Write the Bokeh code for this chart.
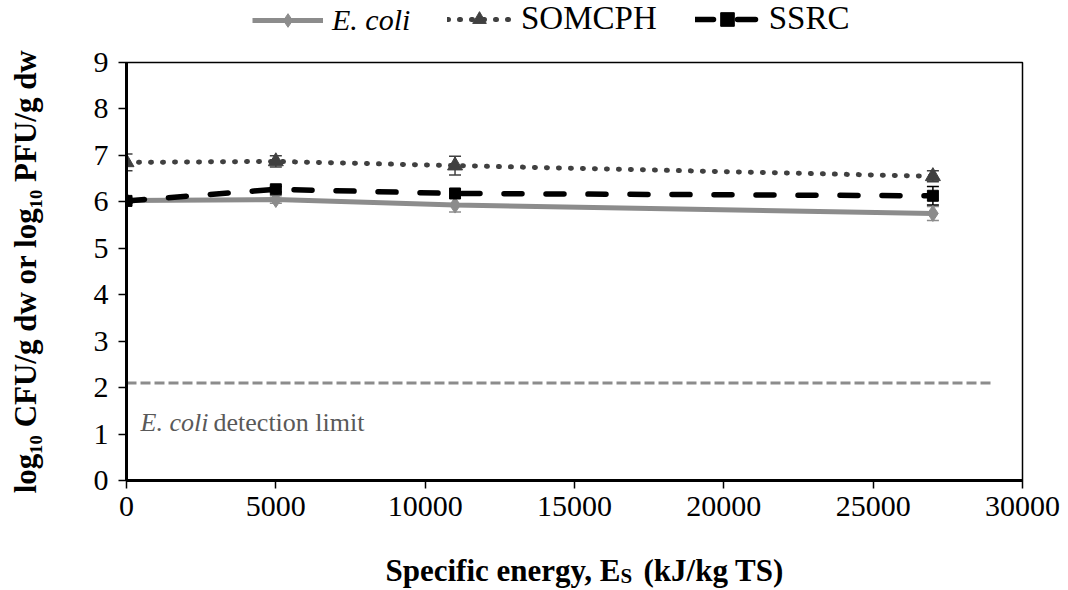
from bokeh.plotting import figure
from bokeh.layouts import column
from bokeh.models import (ColumnDataSource, Whisker, TeeHead, Legend, LegendItem,
                          FixedTicker, Range1d)
from bokeh.core.properties import value
from bokeh.embed import file_html
from bokeh.resources import INLINE

# ---- data ----
energy = [0, 5000, 11000, 27000]
ecoli = [6.03, 6.05, 5.93, 5.75]
ecoli_err = [0.05, 0.08, 0.15, 0.15]
somcph = [6.85, 6.87, 6.78, 6.55]
somcph_err = [0.18, 0.12, 0.2, 0.12]
ssrc = [6.02, 6.27, 6.18, 6.13]
ssrc_err = [0.05, 0.06, 0.06, 0.2]
detection_limit = 2.1
detection_x = [0, 29000]
x_ticks = [0, 5000, 10000, 15000, 20000, 25000, 30000]
y_ticks = [0, 1, 2, 3, 4, 5, 6, 7, 8, 9]
series_names = ["E. coli", "SOMCPH", "SSRC"]
x_label_parts = ["Specific energy, E", "S", "(kJ/kg  TS)"]
y_label = "log\u2081\u2080 CFU/g dw or log\u2081\u2080 PFU/g dw"
note_parts = ["E. coli", "detection limit"]

FONT = "Liberation Serif"
C_E, C_S, C_R = "#8c8c8c", "#404040", "black"
W = 1060
BL, BR = 126, 38          # left / right borders (frames are aligned in the column)
FX0, FX1 = BL, W - BR     # frame span in page pixels

# ---------------- main plot ----------------
p = figure(width=W, height=502, output_backend="svg", toolbar_location=None,
           x_range=Range1d(0, 30000), y_range=Range1d(0, 9),
           min_border_left=BL, min_border_right=BR, min_border_top=18,
           min_border_bottom=66)
p.xgrid.visible = False
p.ygrid.visible = False
p.outline_line_color = "black"
p.outline_line_width = 1.5

for ax in (p.xaxis[0], p.yaxis[0]):
    ax.axis_line_width = 3
    ax.axis_line_color = "black"
    ax.major_tick_line_width = 1.5
    ax.major_tick_in = 0
    ax.major_tick_out = 8
    ax.minor_tick_line_color = None
    ax.major_label_text_font = FONT
    ax.major_label_text_font_size = "30px"
    ax.major_label_text_color = "black"

p.xaxis.ticker = FixedTicker(ticks=x_ticks)
p.yaxis.ticker = FixedTicker(ticks=y_ticks)
p.xaxis.major_label_standoff = 8
p.yaxis.major_label_standoff = 10

p.yaxis.axis_label = y_label
p.yaxis.axis_label_text_font = FONT
p.yaxis.axis_label_text_font_size = "31px"
p.yaxis.axis_label_text_font_style = "bold"
p.yaxis.axis_label_text_color = "black"
p.yaxis.axis_label_standoff = 48

# detection limit
p.line(detection_x, [detection_limit, detection_limit], line_color=C_E,
       line_width=3, line_dash="10 4")

def src_for(vals, errs):
    return ColumnDataSource(dict(x=energy, y=vals,
                                 lo=[a - b for a, b in zip(vals, errs)],
                                 hi=[a + b for a, b in zip(vals, errs)]))

src_e = src_for(ecoli, ecoli_err)
src_s = src_for(somcph, somcph_err)
src_r = src_for(ssrc, ssrc_err)

for src, col in ((src_e, C_E), (src_s, C_S), (src_r, C_R)):
    p.add_layout(Whisker(source=src, base="x", lower="lo", upper="hi",
                         line_color=col, line_width=1.5,
                         upper_head=TeeHead(size=12, line_color=col, line_width=1.5),
                         lower_head=TeeHead(size=12, line_color=col, line_width=1.5)))

E_LINE = dict(line_color=C_E, line_width=5)
E_MARK = dict(marker="diamond", size=16, fill_color=C_E, line_color=C_E)
S_LINE = dict(line_color=C_S, line_width=5, line_dash="1 11", line_cap="round")
S_MARK = dict(marker="triangle", size=15, fill_color=C_S, line_color=C_S)
R_LINE = dict(line_color=C_R, line_width=5.5, line_dash="18 24", line_cap="round")
R_MARK = dict(marker="square", size=11, fill_color=C_R, line_color=C_R)

p.line("x", "y", source=src_e, **E_LINE)
p.scatter("x", "y", source=src_e, **E_MARK)
p.line("x", "y", source=src_s, **S_LINE)
p.scatter("x", "y", source=src_s, **S_MARK)
p.line("x", "y", source=src_r, **R_LINE)
p.scatter("x", "y", source=src_r, **R_MARK)

# detection-limit annotation
p.text(x=[470], y=[1.25], text=[note_parts[0]], text_font=value(FONT),
       text_font_size="26px", text_font_style="italic", text_color="#595959",
       text_baseline="alphabetic")
p.text(x=[470], y=[1.25], text=[note_parts[1]], text_font=value(FONT),
       text_font_size="26px", text_color="#595959", text_baseline="alphabetic",
       x_offset=73)

# ---------------- legend strip (above) ----------------
TOP_H = 44
top = figure(width=W, height=TOP_H, output_backend="svg", toolbar_location=None,
             x_range=Range1d(FX0, FX1), y_range=Range1d(0, TOP_H),
             x_axis_type=None, y_axis_type=None,
             min_border=0, min_border_left=BL, min_border_right=BR,
             min_border_top=0, min_border_bottom=0)
top.outline_line_color = None
top.xgrid.visible = False
top.ygrid.visible = False
# legend proxies (kept off-screen)
proxy = ColumnDataSource(dict(x=[FX0], y=[-1000]))
le = [top.line("x", "y", source=proxy, **E_LINE),
      top.scatter("x", "y", source=proxy, **E_MARK)]
ls = [top.line("x", "y", source=proxy, **S_LINE),
      top.scatter("x", "y", source=proxy, **S_MARK)]
lr = [top.line("x", "y", source=proxy, **R_LINE),
      top.scatter("x", "y", source=proxy, **R_MARK)]

common = dict(orientation="horizontal", label_text_font=FONT,
              label_text_color="black",
              glyph_height=34, label_height=34, padding=0, margin=0,
              border_line_color=None, background_fill_alpha=0,
              label_text_baseline="middle")
leg1 = Legend(items=[LegendItem(label=series_names[0], renderers=le)],
              location=(252 - FX0, 7), label_text_font_size="30px",
              label_text_font_style="italic", glyph_width=71,
              label_standoff=9, **common)
leg2 = Legend(items=[LegendItem(label=series_names[1], renderers=ls),
                     LegendItem(label=series_names[2], renderers=lr)],
              location=(447 - FX0, 7), label_text_font_size="33px",
              glyph_width=64, spacing=38, label_standoff=10, **common)
top.add_layout(leg1, "center")
top.add_layout(leg2, "center")

# ---------------- x-axis label strip (below) ----------------
BOT_H = 44
bot = figure(width=W, height=BOT_H, output_backend="svg", toolbar_location=None,
             x_range=Range1d(FX0, FX1), y_range=Range1d(0, BOT_H),
             x_axis_type=None, y_axis_type=None,
             min_border=0, min_border_left=BL, min_border_right=BR,
             min_border_top=0, min_border_bottom=0)
bot.outline_line_color = None
bot.xgrid.visible = False
bot.ygrid.visible = False
bot.text(x=[620], y=[20], text=[x_label_parts[0]], text_font=value(FONT),
         text_font_size="31px", text_font_style="bold", text_align="right",
         text_baseline="alphabetic", text_color="black")
bot.text(x=[620], y=[15], text=[x_label_parts[1]], text_font=value(FONT),
         text_font_size="21px", text_font_style="bold", text_align="left",
         text_baseline="alphabetic", text_color="black")
bot.text(x=[643], y=[20], text=[x_label_parts[2]], text_font=value(FONT),
         text_font_size="31px", text_font_style="bold", text_align="left",
         text_baseline="alphabetic", text_color="black")

layout = column(top, p, bot, spacing=0)
open("out.html", "w").write(file_html(layout, INLINE))
